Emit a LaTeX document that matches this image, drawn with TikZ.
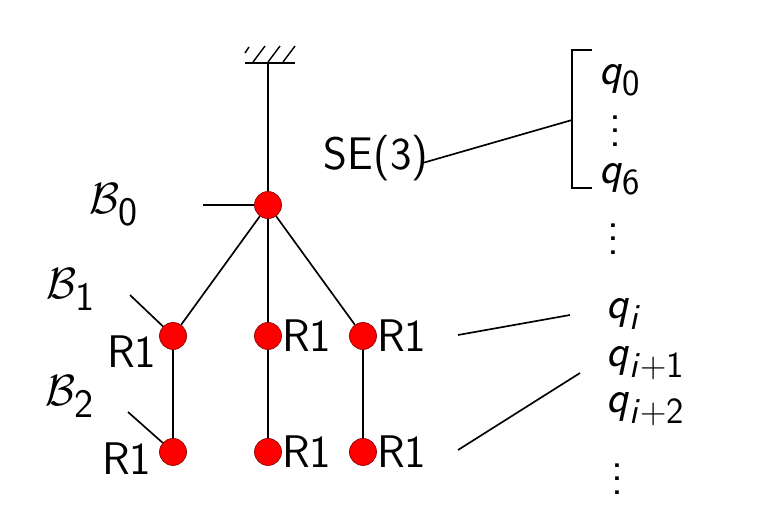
\documentclass[tikz,border=0pt]{standalone}
\usepackage{amsmath}
\usepackage{tikz}
\usetikzlibrary{positioning}

\DeclareMathSizes{26}{26}{21}{17}
\DeclareMathSizes{29}{29}{23}{18}
\newcommand{\qsym}{\textsf{\textit{q}}}
\newcommand{\qdots}{\vbox{\baselineskip=7.5pt\lineskiplimit=-\maxdimen\hbox{.}\hbox{.}\hbox{.}}}

\begin{document}
\begin{tikzpicture}[x=0.02cm, y=-0.02cm,
    every node/.style={font=\fontsize{26}{31}\selectfont\sffamily, inner sep=0pt},
    joint/.style={circle, fill=red, draw=red!55!black, thin, minimum size=0.54cm},
    rlabel/.style={label distance=0pt},
    frame/.style={anchor=base west, font=\fontsize{29}{34}\selectfont\sffamily},
    link/.style={line width=0.95pt}]
  \useasboundingbox (0,0) rectangle (758,528);

  % ground
  \draw[link] (245,63) -- (295,63);
  \foreach \hx in {253,268,283}
    \draw[line width=0.8pt] (\hx,62) -- (\hx+12,46);
  \draw[line width=0.8pt] (245,53) -- (249,47);
  \coordinate (gnd) at (268,63);

  % tree
  \node[joint] (b0) at (268,205) {}
    [grow=down, edge from parent/.style={draw, link},
     level 1/.style={sibling distance=1.9cm, level distance=2.62cm},
     level 2/.style={level distance=2.32cm}]
    child
    {
      node[joint, label={[label distance=0.05cm, yshift=-0.32cm]left:R1}] (l1a) {}
      child { node[joint, label={[label distance=0.15cm, yshift=-0.14cm]left:R1}] (l2a) {} }
    }
    child
    {
      node[joint, label={[rlabel]right:R1}] (l1b) {}
      child { node[joint, label={[rlabel]right:R1}] (l2b) {} }
    }
    child
    {
      node[joint, label={[rlabel]right:R1}] (l1c) {}
      child { node[joint, label={[rlabel]right:R1}] (l2c) {} }
    }
  ;
  \draw[link] (gnd) -- (b0);

  % body frames
  \node[frame] (bb0) at (89,213) {$\mathcal{B}_{\textsf{0}}$};
  \coordinate (b0in) at (203,205);
  \draw[link] (b0in) -- (b0);
  \node[frame] (bb1) at (46,298) {$\mathcal{B}_{\textsf{1}}$};
  \coordinate (b1in) at (130,295);
  \draw[link] (b1in) -- (l1a);
  \node[frame] (bb2) at (45,405) {$\mathcal{B}_{\textsf{2}}$};
  \coordinate (b2in) at (128,412);
  \draw[link] (b2in) -- (l2a);

  % configuration vector
  \node (se) at (376,158) {SE(3)};
  \draw[link] (592,50) -- (572,50) -- (572,188) -- (592,188);
  \coordinate (brk) at (572,120);
  \draw[link] ([xshift=-0.12cm, yshift=-0.1cm]se.east) -- (brk);

  \node[anchor=west] (q0) at (599,80) {$\qsym_{\textsf{0}}$};
  \node (d1) at (615,131) {\qdots};
  \node[anchor=west] (q6) at (599,179) {$\qsym_{\textsf{6}}$};
  \node (d2) at (613,239) {\qdots};
  \node[anchor=west] (qi) at (606,314) {$\qsym_{\textsf{\textit{i}}}$};
  \node[anchor=west] (qi1) at (606,363) {$\qsym_{\textsf{\textit{i}}+\textsf{1}}$};
  \node[anchor=west] (qi2) at (606,409) {$\qsym_{\textsf{\textit{i}}+\textsf{2}}$};
  \node (d3) at (617,479) {\qdots};

  \coordinate (rout1) at (458,335);
  \coordinate (qin1) at (570,315);
  \draw[link] (rout1) -- (qin1);
  \coordinate (rout2) at (458,450);
  \coordinate (qin2) at (580,373);
  \draw[link] (rout2) -- (qin2);
\end{tikzpicture}
\end{document}
